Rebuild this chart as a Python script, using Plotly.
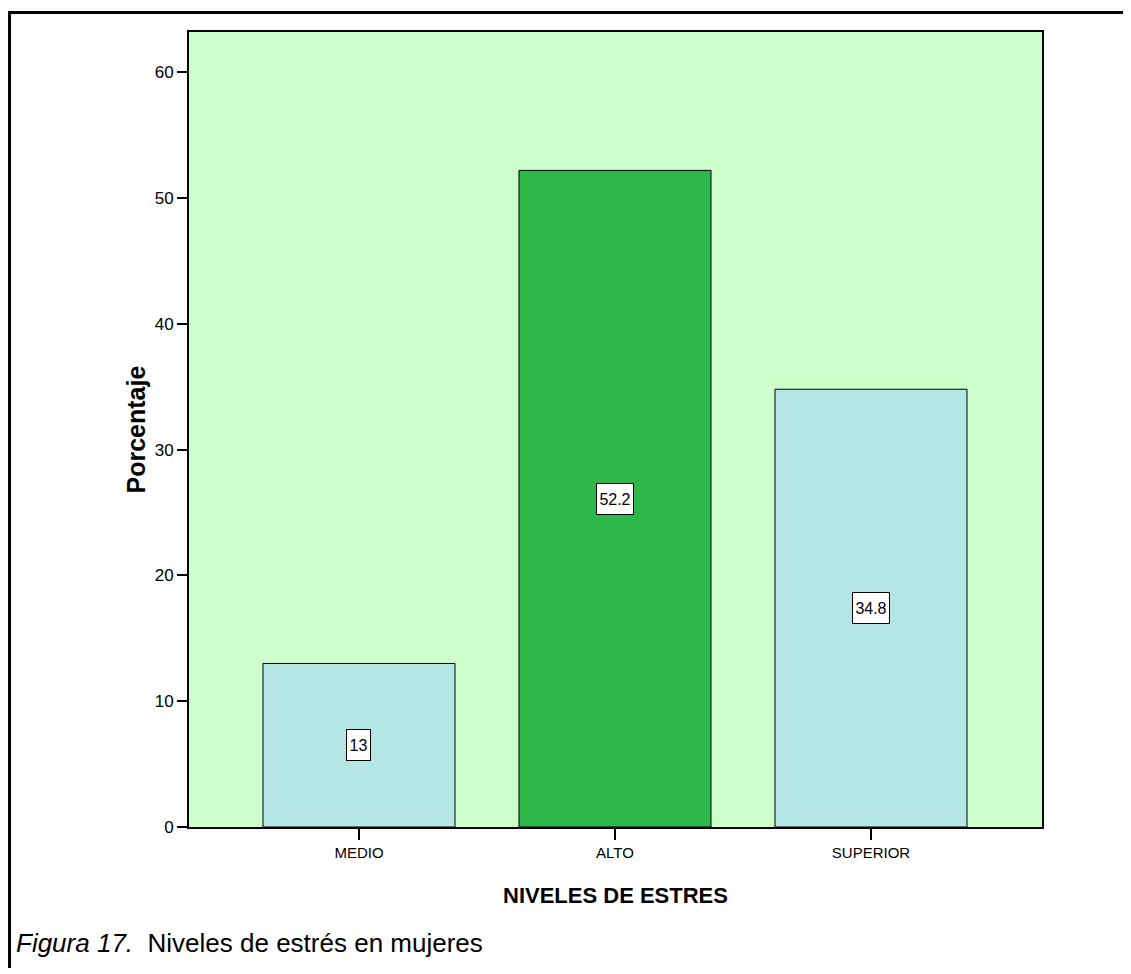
import plotly.graph_objects as go

categories = ["MEDIO", "ALTO", "SUPERIOR"]
values = [13, 52.2, 34.8]
value_labels = ["13", "52.2", "34.8"]
bar_colors = ["#B4E6E6", "#2EB84A", "#B4E6E6"]
y_ticks = [0, 10, 20, 30, 40, 50, 60]

FONT = "Liberation Sans, Arial"
fig = go.Figure()
fig.add_trace(go.Bar(
    x=categories, y=values, width=0.75,
    marker=dict(color=bar_colors, line=dict(color="black", width=1)),
    hoverinfo="skip",
))

for c, v, t in zip(categories, values, value_labels):
    fig.add_annotation(x=c, y=v / 2, text=t, showarrow=False,
                       font=dict(family=FONT, size=16, color="black"),
                       width=21 if len(t) < 3 else 34, height=28,
                       bgcolor="white", bordercolor="black", borderwidth=1, borderpad=1)

# page is offset 8px by body margin: plot area at page (189..1042, 32..827)
fig.update_layout(
    width=1115, height=960,
    margin=dict(l=181, r=81, t=24, b=141),
    paper_bgcolor="white", plot_bgcolor="#CCFFCC",
    showlegend=False,
    xaxis=dict(range=[-0.664, 2.668], showline=True, linecolor="black", linewidth=2, mirror=True,
               ticks="outside", ticklen=11, tickcolor="black", tickwidth=2,
               tickfont=dict(family=FONT, size=15, color="black"),
               showgrid=False),
    yaxis=dict(range=[0, 63.2], tickvals=y_ticks, showline=True, linecolor="black", linewidth=2, mirror=True,
               ticks="outside", ticklen=10, tickcolor="black", tickwidth=2,
               tickfont=dict(family=FONT, size=17, color="black"),
               showgrid=False, zeroline=False),
)

# axis titles
fig.add_annotation(xref="paper", yref="paper", x=(615 - 189) / 853, y=(827 - 895) / 795,
                   xanchor="center", yanchor="middle", showarrow=False,
                   text="<b>NIVELES DE ESTRES</b>",
                   font=dict(family=FONT, size=22, color="black"))
fig.add_annotation(xref="paper", yref="paper", x=(135 - 189) / 853, y=0.5,
                   xanchor="center", yanchor="middle", showarrow=False, textangle=-90,
                   text="<b>Porcentaje</b>",
                   font=dict(family=FONT, size=25, color="black"))

# outer frame (left and top lines)
fig.add_shape(type="line", xref="paper", yref="paper", x0=-0.2104, x1=-0.2104, y0=1.0245, y1=-0.2,
              line=dict(color="black", width=3))
fig.add_shape(type="line", xref="paper", yref="paper", x0=-0.2122, x1=1.2, y0=1.0245, y1=1.0245,
              line=dict(color="black", width=3))

fig.add_annotation(xref="paper", yref="paper", x=(14 - 189) / 853, y=(827 - 943) / 795,
                   xanchor="left", yanchor="middle", showarrow=False,
                   text="<i>Figura 17.</i>  Niveles de estrés en mujeres",
                   font=dict(family=FONT, size=26, color="black"))

fig.write_html("out.html")
